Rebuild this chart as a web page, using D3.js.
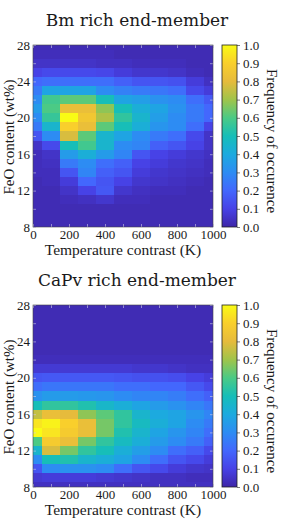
<!DOCTYPE html>
<html>
<head>
<meta charset="utf-8">
<script src="https://cdn.jsdelivr.net/npm/d3@7/dist/d3.min.js"></script>
<style>
  body { margin: 0; background: #fff; }
  svg { display: block; }
  text { font-family: "Liberation Serif", "Times New Roman", serif; fill: #1a1a1a; }
</style>
</head>
<body>
<svg width="282" height="523"></svg>
<script>
// bin centres
var tempBins = [0, 100, 200, 300, 400, 500, 600, 700, 800, 900, 1000];
var feoBins = [28, 27, 26, 25, 24, 23, 22, 21, 20, 19, 18, 17, 16, 15, 14, 13, 12, 11, 10, 9, 8];

// frequency of occurrence, one row per FeO bin (28 -> 8), one column per temperature bin
var bmFreq = [
  [0.02, 0.02, 0.02, 0.02, 0.02, 0.02, 0.02, 0.02, 0.02, 0.02, 0.02],
  [0.03, 0.03, 0.03, 0.03, 0.03, 0.02, 0.02, 0.02, 0.02, 0.02, 0.02],
  [0.05, 0.05, 0.05, 0.05, 0.04, 0.04, 0.03, 0.03, 0.03, 0.02, 0.02],
  [0.10, 0.12, 0.12, 0.12, 0.11, 0.08, 0.06, 0.06, 0.05, 0.03, 0.02],
  [0.20, 0.22, 0.22, 0.22, 0.22, 0.18, 0.15, 0.15, 0.14, 0.08, 0.04],
  [0.25, 0.38, 0.38, 0.38, 0.30, 0.27, 0.25, 0.24, 0.22, 0.12, 0.08],
  [0.30, 0.58, 0.62, 0.62, 0.50, 0.38, 0.36, 0.32, 0.30, 0.22, 0.16],
  [0.35, 0.60, 0.82, 0.82, 0.68, 0.50, 0.42, 0.38, 0.32, 0.25, 0.20],
  [0.30, 0.56, 1.00, 0.86, 0.72, 0.55, 0.45, 0.36, 0.30, 0.25, 0.20],
  [0.25, 0.45, 0.90, 0.82, 0.62, 0.50, 0.42, 0.33, 0.30, 0.22, 0.10],
  [0.15, 0.30, 0.78, 0.62, 0.45, 0.38, 0.30, 0.25, 0.22, 0.12, 0.05],
  [0.05, 0.12, 0.50, 0.58, 0.45, 0.30, 0.28, 0.18, 0.15, 0.10, 0.05],
  [0.03, 0.05, 0.35, 0.42, 0.35, 0.28, 0.15, 0.10, 0.08, 0.06, 0.04],
  [0.03, 0.04, 0.25, 0.30, 0.22, 0.18, 0.10, 0.08, 0.06, 0.05, 0.03],
  [0.03, 0.03, 0.15, 0.28, 0.18, 0.15, 0.08, 0.06, 0.05, 0.04, 0.03],
  [0.02, 0.03, 0.08, 0.20, 0.15, 0.10, 0.06, 0.05, 0.04, 0.03, 0.02],
  [0.02, 0.02, 0.05, 0.10, 0.16, 0.06, 0.04, 0.03, 0.03, 0.02, 0.02],
  [0.02, 0.02, 0.03, 0.04, 0.06, 0.03, 0.03, 0.02, 0.02, 0.02, 0.02],
  [0.02, 0.02, 0.02, 0.02, 0.02, 0.02, 0.02, 0.02, 0.02, 0.02, 0.02],
  [0.02, 0.02, 0.02, 0.02, 0.02, 0.02, 0.02, 0.02, 0.02, 0.02, 0.02],
  [0.02, 0.02, 0.02, 0.02, 0.02, 0.02, 0.02, 0.02, 0.02, 0.02, 0.02]
];

var capvFreq = [
  [0.02, 0.02, 0.02, 0.02, 0.02, 0.02, 0.02, 0.02, 0.02, 0.02, 0.02],
  [0.02, 0.02, 0.02, 0.02, 0.02, 0.02, 0.02, 0.02, 0.02, 0.02, 0.02],
  [0.02, 0.02, 0.02, 0.02, 0.02, 0.02, 0.02, 0.02, 0.02, 0.02, 0.02],
  [0.02, 0.02, 0.02, 0.02, 0.02, 0.02, 0.02, 0.02, 0.02, 0.02, 0.02],
  [0.02, 0.02, 0.02, 0.02, 0.02, 0.02, 0.02, 0.02, 0.02, 0.02, 0.02],
  [0.02, 0.02, 0.02, 0.02, 0.02, 0.02, 0.02, 0.02, 0.02, 0.02, 0.02],
  [0.03, 0.03, 0.03, 0.03, 0.03, 0.03, 0.03, 0.03, 0.03, 0.03, 0.03],
  [0.07, 0.07, 0.07, 0.07, 0.07, 0.07, 0.06, 0.06, 0.05, 0.04, 0.04],
  [0.15, 0.16, 0.16, 0.16, 0.16, 0.15, 0.14, 0.14, 0.13, 0.10, 0.08],
  [0.22, 0.24, 0.24, 0.24, 0.24, 0.22, 0.22, 0.20, 0.20, 0.16, 0.12],
  [0.32, 0.35, 0.35, 0.34, 0.33, 0.30, 0.28, 0.28, 0.26, 0.22, 0.18],
  [0.50, 0.55, 0.55, 0.52, 0.46, 0.42, 0.38, 0.35, 0.32, 0.28, 0.24],
  [0.75, 0.82, 0.80, 0.68, 0.62, 0.55, 0.45, 0.40, 0.38, 0.33, 0.28],
  [0.95, 0.98, 0.90, 0.82, 0.65, 0.55, 0.48, 0.42, 0.38, 0.30, 0.25],
  [1.00, 0.95, 0.88, 0.82, 0.65, 0.52, 0.45, 0.38, 0.33, 0.28, 0.22],
  [0.60, 0.88, 0.82, 0.65, 0.55, 0.48, 0.42, 0.35, 0.30, 0.25, 0.18],
  [0.45, 0.78, 0.65, 0.55, 0.50, 0.42, 0.36, 0.30, 0.22, 0.18, 0.12],
  [0.30, 0.50, 0.52, 0.45, 0.42, 0.38, 0.30, 0.22, 0.15, 0.12, 0.08],
  [0.15, 0.30, 0.32, 0.32, 0.30, 0.22, 0.15, 0.12, 0.08, 0.06, 0.05],
  [0.07, 0.08, 0.08, 0.08, 0.07, 0.06, 0.05, 0.04, 0.04, 0.03, 0.03],
  [0.04, 0.04, 0.04, 0.04, 0.04, 0.04, 0.04, 0.04, 0.04, 0.04, 0.04]
];

var xTickValues = [0, 100, 200, 300, 400, 500, 600, 700, 800, 900, 1000];
var xTickLabels = [0, 200, 400, 600, 800, 1000];
var yTickValues = [8, 10, 12, 14, 16, 18, 20, 22, 24, 26, 28];
var yTickLabels = [8, 12, 16, 20, 24, 28];
var cbarTicks = [0, 0.1, 0.2, 0.3, 0.4, 0.5, 0.6, 0.7, 0.8, 0.9, 1.0];

// parula-like colour stops
var parulaStops = [0, 0.1, 0.2, 0.3, 0.4, 0.5, 0.6, 0.7, 0.8, 0.9, 1.0];
var parulaColors = ["#3e26a8", "#4742e6", "#4367fd", "#2d8cf3", "#1caadf", "#17beb8",
                    "#4bca85", "#a0c44a", "#e6bb3c", "#f9cf2c", "#f9fb15"];

var svg = d3.select("svg");
var color = d3.scaleLinear().domain(parulaStops).range(parulaColors).clamp(true);

var grad = svg.append("defs").append("linearGradient")
    .attr("id", "parula")
    .attr("x1", 0).attr("y1", 1).attr("x2", 0).attr("y2", 0);
grad.selectAll("stop")
    .data(parulaStops)
    .enter().append("stop")
    .attr("offset", function(d) { return d; })
    .attr("stop-color", function(d, i) { return parulaColors[i]; });

var margin = {left: 33, top: 45},
    width = 180,
    height = 182;

var x = d3.scaleLinear().domain([0, 1000]).range([0, width]);
var y = d3.scaleLinear().domain([8, 28]).range([height, 0]);
var cb = d3.scaleLinear().domain([0, 1]).range([height, 0]);

function drawPanel(title, freq, offsetY) {
    var g = svg.append("g")
        .attr("transform", "translate(" + margin.left + "," + (margin.top + offsetY) + ")");

    svg.append("text")
        .attr("x", 137)
        .attr("y", offsetY + 26)
        .attr("text-anchor", "middle")
        .style("font-family", "'DejaVu Serif', serif")
        .style("font-size", "17px")
        .attr("fill", "#222")
        .text(title);

    var cells = [];
    freq.forEach(function(row, i) {
        row.forEach(function(v, j) {
            cells.push({t: tempBins[j], f: feoBins[i], v: v});
        });
    });

    g.selectAll("rect.cell")
        .data(cells)
        .enter().append("rect")
        .attr("class", "cell")
        .attr("x", function(d) { return x(Math.max(d.t - 50, 0)); })
        .attr("width", function(d) { return x(Math.min(d.t + 50, 1000)) - x(Math.max(d.t - 50, 0)); })
        .attr("y", function(d) { return y(Math.min(d.f + 0.5, 28)); })
        .attr("height", function(d) { return y(Math.max(d.f - 0.5, 8)) - y(Math.min(d.f + 0.5, 28)); })
        .attr("fill", function(d) { return color(d.v); })
        .attr("shape-rendering", "crispEdges");

    var fmtX = function(d) { return xTickLabels.indexOf(d) >= 0 ? d : ""; };
    var fmtY = function(d) { return yTickLabels.indexOf(d) >= 0 ? d : ""; };

    var axes = [
        g.append("g").attr("transform", "translate(0," + height + ")")
            .call(d3.axisBottom(x).tickValues(xTickValues).tickFormat(fmtX).tickSizeInner(-3).tickSizeOuter(0).tickPadding(3)),
        g.append("g")
            .call(d3.axisLeft(y).tickValues(yTickValues).tickFormat(fmtY).tickSizeInner(-3).tickSizeOuter(0).tickPadding(3)),
        g.append("g")
            .call(d3.axisTop(x).tickValues(xTickValues).tickFormat("").tickSizeInner(-3).tickSizeOuter(0)),
        g.append("g").attr("transform", "translate(" + width + ",0)")
            .call(d3.axisRight(y).tickValues(yTickValues).tickFormat("").tickSizeInner(-3).tickSizeOuter(0))
    ];
    axes.forEach(function(a) {
        a.select(".domain").remove();
        a.selectAll(".tick line").attr("stroke", "#cfcfe8").attr("stroke-width", 0.6);
        a.selectAll(".tick text").style("font-family", "'Liberation Serif', serif").style("font-size", "13px").attr("fill", "#1a1a1a");
    });

    g.append("rect")
        .attr("width", width).attr("height", height)
        .attr("fill", "none").attr("stroke", "#444").attr("stroke-width", 0.6);

    g.append("text")
        .attr("transform", "translate(-19," + (height / 2 + 1) + ") rotate(-90)")
        .attr("text-anchor", "middle")
        .style("font-size", "15px")
        .text("FeO content (wt%)");

    g.append("text")
        .attr("x", width / 2)
        .attr("y", height + 28)
        .attr("text-anchor", "middle")
        .style("font-size", "15.5px")
        .text("Temperature contrast (K)");

    // colour bar
    var cbg = g.append("g").attr("transform", "translate(189,0)");
    cbg.append("rect")
        .attr("width", 15).attr("height", height)
        .attr("fill", "url(#parula)")
        .attr("stroke", "#222").attr("stroke-width", 0.8);
    var cax = cbg.append("g").attr("transform", "translate(15,0)")
        .call(d3.axisRight(cb).tickValues(cbarTicks).tickFormat(d3.format(".1f")).tickSize(3).tickPadding(3));
    cax.select(".domain").remove();
    cax.selectAll(".tick line").attr("stroke", "#222").attr("stroke-width", 0.6);
    cax.selectAll(".tick text").style("font-family", "'Liberation Serif', serif").style("font-size", "13px").attr("fill", "#1a1a1a");

    cbg.append("text")
        .attr("transform", "translate(45," + (height / 2 + 5) + ") rotate(90)")
        .attr("text-anchor", "middle")
        .style("font-size", "15px")
        .text("Frequency of occurence");
}

drawPanel("Bm rich end-member", bmFreq, 0);
drawPanel("CaPv rich end-member", capvFreq, 260);
</script>
</body>
</html>
